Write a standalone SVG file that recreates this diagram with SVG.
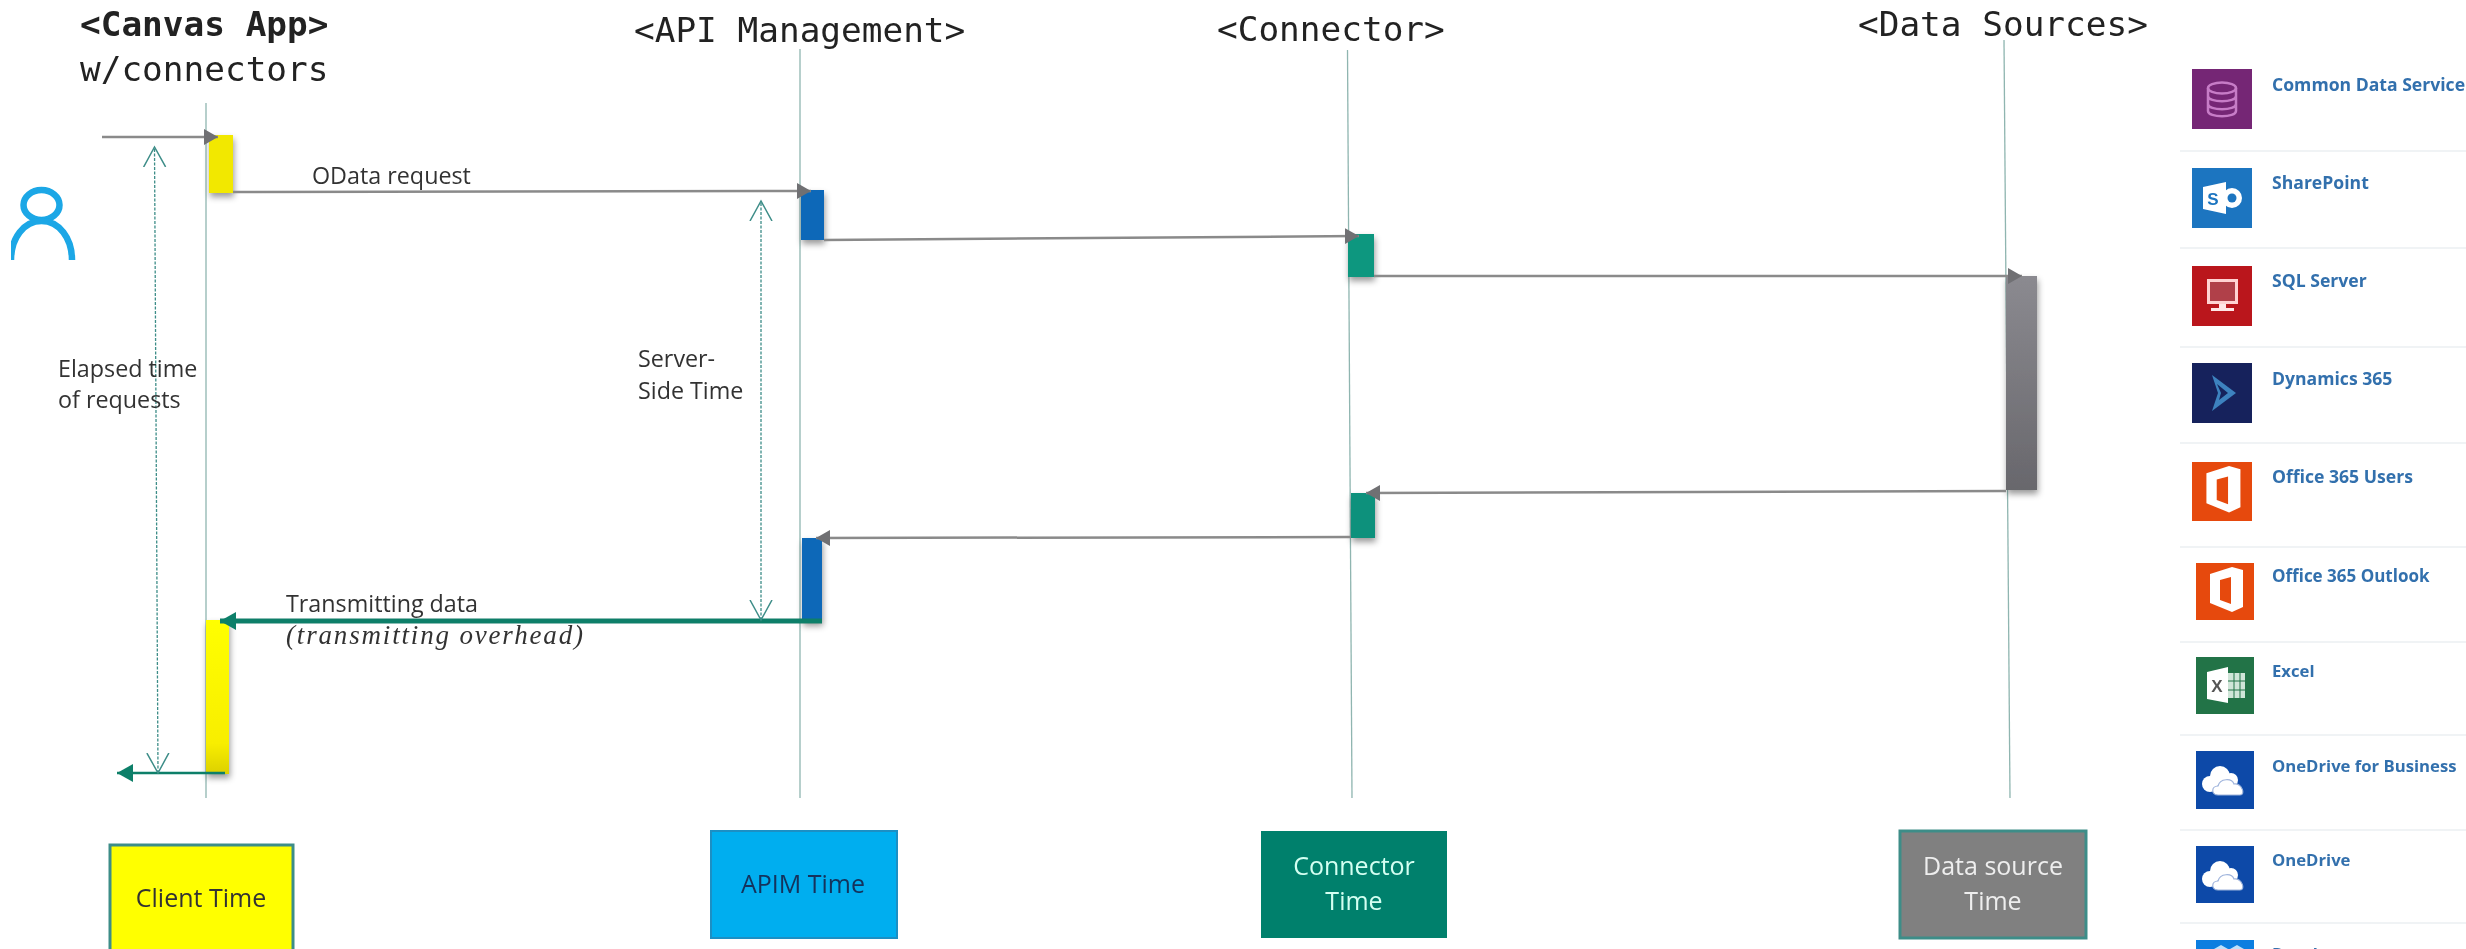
<svg xmlns="http://www.w3.org/2000/svg" width="2466" height="949" viewBox="0 0 2466 949">
<style>
.title{font-family:"DejaVu Sans Mono","Liberation Mono",monospace;font-size:34.4px;fill:#222}
.lab{font-family:"Open Sans","Liberation Sans",sans-serif;font-size:23.3px;fill:#333}
.box{font-family:"Open Sans","Liberation Sans",sans-serif;font-size:25px;text-anchor:middle}
.src{font-family:"Open Sans","Liberation Sans",sans-serif;font-size:17.6px;font-weight:700;fill:#3370ad}
.sm{font-size:16.7px}
.life{stroke:#8fb5b0;stroke-width:1.3;fill:none}
.msg{stroke:#8a8a8a;stroke-width:2.5;fill:none}
.ret{stroke:#0f7f69;fill:none}
.span{stroke:#3d8d88;stroke-width:1.3;stroke-dasharray:3 1.5;fill:none}
.sep{stroke:#f0f3f5;stroke-width:2}
.glyph{font-family:"Liberation Sans",sans-serif;font-weight:700;text-anchor:middle}
</style>
<defs>
<marker id="g" markerUnits="userSpaceOnUse" markerWidth="16" markerHeight="18" refX="14" refY="9" orient="auto"><path d="M0 1L14 9L0 17Z" fill="#6f6f73"/></marker>
<marker id="t" markerUnits="userSpaceOnUse" markerWidth="18" markerHeight="20" refX="16" refY="10" orient="auto"><path d="M0 1L16 10L0 19Z" fill="#0f7f69"/></marker>
<marker id="o" markerUnits="userSpaceOnUse" markerWidth="22" markerHeight="24" refX="20" refY="12" orient="auto-start-reverse"><path d="M0 1L20 12L0 23" fill="none" stroke="#3d8d88" stroke-width="1.5"/></marker>
<filter id="sh" x="-40%" y="-20%" width="180%" height="150%"><feDropShadow dx="1" dy="4" stdDeviation="3" flood-color="#000" flood-opacity=".4"/></filter>
<filter id="soft" x="0" y="0" width="100%" height="100%"><feGaussianBlur stdDeviation="0.6"/></filter>
<linearGradient id="gy" x1="0" y1="0" x2="0" y2="1"><stop offset="0" stop-color="#8b8a90"/><stop offset="1" stop-color="#68676c"/></linearGradient>
<linearGradient id="yl" x1="0" y1="0" x2="0" y2="1"><stop offset="0" stop-color="#ffff00"/><stop offset=".8" stop-color="#f8ee00"/><stop offset="1" stop-color="#dcd000"/></linearGradient>
<g id="office"><path d="M14 11L36 4L47 7V44L36 49L14 40Z" fill="#fff"/><path d="M24 17L35 14V41L24 37Z" fill="#e64a0e"/></g>
<g id="cloud"><g fill="#fff"><circle cx="14" cy="33" r="8"/><circle cx="24" cy="25" r="10"/><circle cx="35" cy="29" r="7"/></g><path d="M22 44C15 44 15 35 22 35C24 27 36 27 38 33C46 32 50 44 44 44Z" fill="#fff" stroke="#9fb4dc" stroke-width="1.2"/></g>
</defs>
<rect width="2466" height="949" fill="#fff"/>
<g filter="url(#soft)">
<g id="lifelines">
<path class="life" d="M206 103V798"/>
<path class="life" d="M800 49V798"/>
<path class="life" d="M1347.500 50L1352 798"/>
<path class="life" d="M2004 40L2010 798"/>
</g>
<g id="canvas-app"><text class="title" x="80" y="36"><tspan font-weight="700">&lt;Canvas App&gt;</tspan></text><text class="title" x="80" y="81">w/connectors</text></g>
<g id="api-management"><text class="title" x="634" y="42">&lt;API Management&gt;</text></g>
<g id="connector"><text class="title" x="1217" y="41">&lt;Connector&gt;</text></g>
<g id="data-sources"><text class="title" x="1858" y="36">&lt;Data Sources&gt;</text></g>
<g id="user"><ellipse cx="41.500" cy="205" rx="18" ry="15" fill="none" stroke="#1aa7e6" stroke-width="6.500"/><path d="M11 260C11 238 24 221 41.500 221C59 221 72 238 72 260" fill="none" stroke="#1aa7e6" stroke-width="6.500"/></g>
<g id="activations">
<rect x="209" y="135" width="24" height="58" fill="#f2e800" filter="url(#sh)"/>
<rect x="801" y="190" width="23" height="50" fill="#0b68b8" filter="url(#sh)"/>
<rect x="1348" y="234" width="26" height="43" fill="#07977f" filter="url(#sh)"/>
<rect x="2006" y="276" width="31" height="214" fill="url(#gy)" filter="url(#sh)"/>
<rect x="1351" y="493" width="24" height="45" fill="#07917b" filter="url(#sh)"/>
<rect x="802" y="538" width="20" height="84" fill="#0b68b8" filter="url(#sh)"/>
<rect x="206" y="620" width="23" height="154" fill="url(#yl)" filter="url(#sh)"/>
</g>
<g id="connectors">
<path class="msg" d="M102 137H218" marker-end="url(#g)"/>
<path class="msg" d="M233 192L811 191" marker-end="url(#g)"/>
<path class="msg" d="M824 240L1359 236" marker-end="url(#g)"/>
<path class="msg" d="M1374 276H2022" marker-end="url(#g)"/>
<path class="msg" d="M2006 491L1366 493" marker-end="url(#g)"/>
<path class="msg" d="M1351 537L816 538" marker-end="url(#g)"/>
<path class="ret" stroke-width="5" d="M822 621H220" marker-end="url(#t)"/>
<path class="ret" stroke-width="2.500" d="M225 773H117" marker-end="url(#t)"/>
<path class="span" d="M158 773L154.500 147" marker-start="url(#o)" marker-end="url(#o)"/>
<path class="span" d="M761 620V201" marker-start="url(#o)" marker-end="url(#o)"/>
</g>
<g id="labels">
<text class="lab" x="312" y="184">OData request</text>
<text class="lab" x="58" y="377">Elapsed time</text>
<text class="lab" x="58" y="408">of requests</text>
<text class="lab" x="638" y="367">Server-</text>
<text class="lab" x="638" y="399">Side Time</text>
<text class="lab" x="286" y="612">Transmitting data</text>
<text x="286" y="644" font-family="'Liberation Serif',serif" font-style="italic" font-size="27" textLength="297" fill="#333">(transmitting overhead)</text>
</g>
<g id="client-time"><rect x="110" y="845" width="183" height="120" fill="#ff0" stroke="#3d8d88" stroke-width="3"/><text class="box" x="201" y="907" fill="#333">Client Time</text></g>
<g id="apim-time"><rect x="711" y="831" width="186" height="107" fill="#00aeef" stroke="#1a8fc4" stroke-width="2"/><text class="box" x="803" y="893" fill="#12335c">APIM Time</text></g>
<g id="connector-time"><rect x="1261" y="831" width="186" height="107" fill="#00806c"/><text class="box" x="1354" y="875" fill="#d4fff2">Connector</text><text class="box" x="1354" y="910" fill="#d4fff2">Time</text></g>
<g id="data-source-time"><rect x="1900" y="831" width="186" height="107" fill="#808080" stroke="#3d8d88" stroke-width="3"/><text class="box" x="1993" y="875" fill="#eee">Data source</text><text class="box" x="1993" y="910" fill="#eee">Time</text></g>
<g id="source-list">
<path class="sep" d="M2180 151H2466M2180 248H2466M2180 347H2466M2180 443H2466M2180 547H2466M2180 642H2466M2180 735H2466M2180 830H2466M2180 923H2466"/>
<g id="cds"><rect x="2192" y="69" width="60" height="60" fill="#742774"/><g fill="none" stroke="#c77bc7" stroke-width="2.500"><ellipse cx="2222" cy="88" rx="14" ry="5.500"/><path d="M2208 88V111C2208 118 2236 118 2236 111V88M2208 96C2208 103 2236 103 2236 96M2208 104C2208 111 2236 111 2236 104"/></g><text class="src" x="2272" y="91">Common Data Service</text></g>
<g id="sharepoint"><rect x="2192" y="168" width="60" height="60" fill="#1b74c0"/><circle cx="2232" cy="198" r="10" fill="#fff"/><circle cx="2232" cy="198" r="4.500" fill="#1b74c0"/><path d="M2203 187L2226 182V214L2203 209Z" fill="#fff"/><text class="glyph" x="2213" y="205" font-size="17" fill="#1b74c0">S</text><text class="src" x="2272" y="189">SharePoint</text></g>
<g id="sql"><rect x="2192" y="266" width="60" height="60" fill="#ba141a"/><rect x="2208.500" y="280.500" width="28" height="22" fill="#b04048" stroke="#ffd2d2" stroke-width="3"/><path d="M2219 304h7v4h8v3h-23v-3h8z" fill="#ffe6e6"/><text class="src" x="2272" y="287">SQL Server</text></g>
<g id="dynamics"><rect x="2192" y="363" width="60" height="60" fill="#14245c"/><path d="M2212 375L2236 393L2212 411L2218 393Z" fill="#3d82bf"/><path d="M2217 384L2228 393L2219 400L2221 393Z" fill="#14245c"/><text class="src" x="2272" y="385">Dynamics 365</text></g>
<g id="o365u"><rect x="2192" y="462" width="60" height="59" fill="#e64a0e"/><use href="#office" transform="translate(2192 462) scale(1.030)"/><text class="src" x="2272" y="483">Office 365 Users</text></g>
<g id="o365o"><rect x="2196" y="563" width="58" height="57" fill="#e64a0e"/><use href="#office" x="2196" y="563"/><text class="src" x="2272" y="582" style="font-size:17px">Office 365 Outlook</text></g>
<g id="excel"><rect x="2196" y="657" width="58" height="57" fill="#217346"/><path d="M2227 673H2245V698H2227Z" fill="#cfe5d8"/><path d="M2234 673V698M2240 673V698M2227 681H2245M2227 690H2245" stroke="#217346" stroke-width="1"/><path d="M2207 672L2228 667V703L2207 699Z" fill="#fff"/><text class="glyph" x="2217" y="692" font-size="17" fill="#555">X</text><text class="src sm" x="2272" y="677" style="font-size:16.700px">Excel</text></g>
<g id="odb"><rect x="2196" y="751" width="58" height="58" fill="#0a4aa8"/><use href="#cloud" x="2196" y="751"/><text class="src" x="2272" y="772" style="font-size:16.700px">OneDrive for Business</text></g>
<g id="od"><rect x="2196" y="846" width="58" height="57" fill="#0a4aa8"/><use href="#cloud" x="2196" y="846"/><text class="src" x="2272" y="866" style="font-size:16.700px">OneDrive</text></g>
<g id="dropbox"><rect x="2196" y="940" width="58" height="30" fill="#0a7ee0"/><path d="M2214 949L2221 945L2228 949ZM2230 949L2237 945L2244 949Z" fill="#bfe0fa"/><text class="src" x="2272" y="960" style="font-size:16.700px">Dropbox</text></g>
</g>
</g>
</svg>
